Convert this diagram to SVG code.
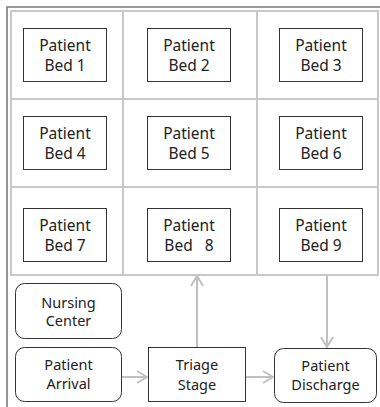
<svg xmlns="http://www.w3.org/2000/svg" width="380" height="407" viewBox="0 0 380 407">
<style>
.frame{fill:none;stroke:#7a7a7a;stroke-width:1.6}
.grid{fill:none;stroke:#c8c8c8;stroke-width:2}
.box{fill:#fff;stroke:#333;stroke-width:1}
.t{font-family:"Noto Sans","Open Sans",sans-serif;font-size:15.5px;fill:#222;text-anchor:middle}
.s{font-family:"Noto Sans","Open Sans",sans-serif;font-size:14.5px;fill:#222;text-anchor:middle}
.c{fill:none;stroke:#c0c0c0;stroke-width:2}
</style>
<defs>
<marker id="ah" viewBox="0 0 12 14" refX="11" refY="7" markerWidth="12" markerHeight="14" markerUnits="userSpaceOnUse" orient="auto">
<path d="M1,1 L11,7 L1,13" fill="none" stroke="#c0c0c0" stroke-width="2"/>
</marker>
</defs>
<rect width="380" height="407" fill="#fff"/>
<path class="frame" d="M7,407 V7 H380"/>
<g id="grid">
<rect class="grid" x="11" y="11" width="367" height="264"/>
<path class="grid" d="M123,11 V275 M257,11 V275 M11,99 H378 M11,187 H378"/>
</g>
<g id="bed1"><rect class="box" x="23.5" y="28.5" width="83" height="53"/><text class="t" x="65" y="51">Patient</text><text class="t" x="65" y="71">Bed 1</text></g>
<g id="bed2"><rect class="box" x="147.5" y="28.5" width="83" height="53"/><text class="t" x="189" y="51">Patient</text><text class="t" x="189" y="71">Bed 2</text></g>
<g id="bed3"><rect class="box" x="279.5" y="28.5" width="83" height="53"/><text class="t" x="321" y="51">Patient</text><text class="t" x="321" y="71">Bed 3</text></g>
<g id="bed4"><rect class="box" x="23.5" y="116.5" width="83" height="53"/><text class="t" x="65" y="139">Patient</text><text class="t" x="65" y="159">Bed 4</text></g>
<g id="bed5"><rect class="box" x="147.5" y="116.5" width="83" height="53"/><text class="t" x="189" y="139">Patient</text><text class="t" x="189" y="159">Bed 5</text></g>
<g id="bed6"><rect class="box" x="279.5" y="116.5" width="83" height="53"/><text class="t" x="321" y="139">Patient</text><text class="t" x="321" y="159">Bed 6</text></g>
<g id="bed7"><rect class="box" x="23.5" y="208.5" width="83" height="53"/><text class="t" x="65" y="231">Patient</text><text class="t" x="65" y="251">Bed 7</text></g>
<g id="bed8"><rect class="box" x="147.5" y="208.5" width="83" height="53"/><text class="t" x="189" y="231">Patient</text><text class="t" x="189" y="251" xml:space="preserve">Bed   8</text></g>
<g id="bed9"><rect class="box" x="279.5" y="208.5" width="83" height="53"/><text class="t" x="321" y="231">Patient</text><text class="t" x="321" y="251">Bed 9</text></g>
<g id="nursing"><rect class="box" x="15.5" y="283.5" width="106" height="55" rx="9"/><text class="s" x="68.5" y="307.5">Nursing</text><text class="s" x="68.5" y="326">Center</text></g>
<g id="arrival"><rect class="box" x="15.5" y="347.5" width="106" height="54" rx="9"/><text class="s" x="68.5" y="370">Patient</text><text class="s" x="68.5" y="389">Arrival</text></g>
<g id="triage"><rect class="box" x="148.5" y="347.5" width="97" height="54"/><text class="s" x="197" y="370">Triage</text><text class="s" x="197" y="390">Stage</text></g>
<g id="discharge"><rect class="box" x="274.5" y="348.5" width="102" height="54" rx="9"/><text class="s" x="325.5" y="371">Patient</text><text class="s" x="325.5" y="390">Discharge</text></g>
<g id="connectors">
<path class="c" d="M122,377 H147" marker-end="url(#ah)"/>
<path class="c" d="M246,377 H273" marker-end="url(#ah)"/>
<path class="c" d="M197,347 V276" marker-end="url(#ah)"/>
<path class="c" d="M327,276 V347" marker-end="url(#ah)"/>
</g>
</svg>
